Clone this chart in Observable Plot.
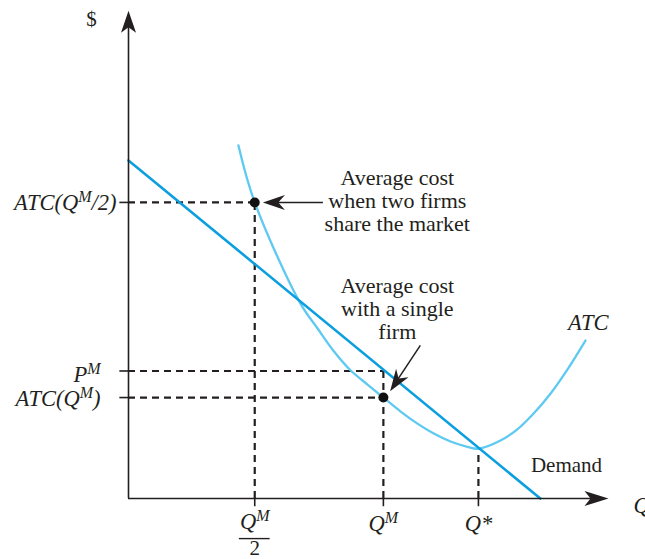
<!DOCTYPE html>
<html><head><meta charset="utf-8">
<script src="https://cdn.jsdelivr.net/npm/d3@7"></script>
<script src="https://cdn.jsdelivr.net/npm/@observablehq/plot@0.6"></script>
<style>body{margin:0;background:#fff} svg{display:block}</style>
</head><body><div id="chart"></div>
<script>
// ---- data (units: quantity Q on x, $ on y) ----
const demandQ = [0, 8.58];
const demandP = [7.0, 0];
const atcQ = [2.29, 2.63, 3.58, 3.94, 4.27, 4.63, 4.98, 5.31, 5.67, 6.02, 6.35, 6.71, 7.06, 7.29, 7.75, 8.10, 8.44, 8.79, 9.15, 9.52];
const atcP = [7.31, 6.13, 4.04, 3.52, 3.06, 2.65, 2.36, 2.09, 1.80, 1.55, 1.35, 1.18, 1.07, 1.03, 1.20, 1.43, 1.76, 2.17, 2.68, 3.27];
const QM2 = 2.63, QM = 5.31, QSTAR = 7.29;
const ATC_QM2 = 6.13, PM = 2.64, ATC_QM = 2.09, ATC_MIN = 1.03;

const yTickValues = [ATC_QM2, PM, ATC_QM];
const yTickLabels = ["ATC(Q^{M}/2)", "P^{M}", "ATC(Q^{M})"];
const xTickValues = [QM, QSTAR];
const xTickLabels = ["Q^{M}", "Q*"];
const note1 = "Average cost\nwhen two firms\nshare the market";
const note2 = "Average cost\nwith a single\nfirm";

const demand = demandQ.map((q, i) => ({q, p: demandP[i]}));
const atc = atcQ.map((q, i) => ({q, p: atcP[i]}));
const hDash = [{x: QM2, y: ATC_QM2}, {x: QM, y: PM}, {x: QM, y: ATC_QM}];
const vDash = [{x: QM2, y: ATC_QM2}, {x: QM, y: PM}, {x: QSTAR, y: ATC_MIN}];
const xLab = xTickValues.map((x, i) => ({x, t: xTickLabels[i]}));
const points = [{x: QM2, y: ATC_QM2}, {x: QM, y: ATC_QM}];

// arrow-head symbol (tip at the anchor)
function dart(angleDeg, L, W, notch) {
  return {draw(ctx) {
    const a = angleDeg * Math.PI / 180, c = Math.cos(a), s = Math.sin(a);
    const pts = [[0, 0], [-L, W / 2], [-L * notch, 0], [-L, -W / 2]].map(([x, y]) => [x * c - y * s, x * s + y * c]);
    ctx.moveTo(...pts[0]); for (let i = 1; i < pts.length; i++) ctx.lineTo(...pts[i]); ctx.closePath();
  }};
}

const INK = "#231f20";
const serif = "'Liberation Serif', 'Times New Roman', serif";
const dash = {stroke: INK, strokeWidth: 2.2, strokeDasharray: "7,5"};
const FS = 21, FL = 22.5;

const plot = Plot.plot({
  width: 645, height: 559,
  marginTop: 0, marginRight: 0, marginBottom: 0, marginLeft: 0,
  x: {domain: [0, 10], range: [128, 608], axis: null},
  y: {domain: [0, 10], range: [498, 15], axis: null},
  style: {fontFamily: serif, fontSize: FS + "px", background: "#fff", color: INK},
  marks: [
    // dashed guides
    Plot.ruleY(hDash, {y: "y", x1: 0, x2: "x", ...dash}),
    Plot.ruleX(vDash, {x: "x", y1: 0, y2: "y", ...dash}),
    // curves
    Plot.line(atc, {x: "q", y: "p", curve: "catmull-rom", stroke: "#5ec9f1", strokeWidth: 2.3}),
    Plot.line(demand, {x: "q", y: "p", stroke: "#0b9fdf", strokeWidth: 2.6}),
    // axes
    Plot.ruleY([0], {x1: 0, x2: 9.7, stroke: INK, strokeWidth: 1.6}),
    Plot.ruleX([0], {y1: 0, y2: 9.8, stroke: INK, strokeWidth: 1.6}),
    Plot.dot([{x: 10, y: 0}], {x: "x", y: "y", symbol: dart(0, 24, 15, 0.75), fill: INK, stroke: "none"}),
    Plot.dot([{x: 0, y: 10.1}], {x: "x", y: "y", symbol: dart(-90, 22, 15, 0.75), fill: INK, stroke: "none"}),
    // ticks
    Plot.ruleY(yTickValues, {x1: -0.18, x2: 0, stroke: INK, strokeWidth: 1.6}),
    Plot.ruleX([QM2, QM, QSTAR], {y1: 0, y2: -0.17, stroke: INK, strokeWidth: 1.6}),
    // points
    Plot.dot(points, {x: "x", y: "y", r: 5, fill: "#111", stroke: "none"}),
    // annotation arrows
    Plot.link([{x1: 4.05, y1: ATC_QM2, x2: 2.95, y2: ATC_QM2}], {x1: "x1", y1: "y1", x2: "x2", y2: "y2", stroke: INK, strokeWidth: 1.5}),
    Plot.dot([{x: 2.80, y: ATC_QM2}], {x: "x", y: "y", symbol: dart(180, 22, 15, 0.7), fill: INK, stroke: "none"}),
    Plot.link([{x1: 6.08, y1: 3.17, x2: 5.6, y2: 2.45}], {x1: "x1", y1: "y1", x2: "x2", y2: "y2", stroke: INK, strokeWidth: 1.5}),
    Plot.dot([{x: 5.45, y: 2.22}], {x: "x", y: "y", symbol: dart(123.7, 22, 15, 0.7), fill: INK, stroke: "none"}),
    // y labels
    Plot.text([0], {x: 0, y: () => yTickValues[0], text: () => yTickLabels[0], dx: -12, textAnchor: "end", fontStyle: "italic", fontSize: FL, fill: INK}),
    Plot.text([1], {x: 0, y: () => yTickValues[1], text: () => yTickLabels[1], dx: -28, dy: 4, textAnchor: "end", fontStyle: "italic", fontSize: FL, fill: INK}),
    Plot.text([2], {x: 0, y: () => yTickValues[2], text: () => yTickLabels[2], dx: -28, dy: 1, textAnchor: "end", fontStyle: "italic", fontSize: FL, fill: INK}),
    // x labels
    Plot.text(xLab, {x: "x", y: -0.52, text: "t", fontStyle: "italic", fontSize: FL, fill: INK}),
    Plot.text([QM2], {x: d => d, y: -0.48, text: () => "Q^{M}", fontStyle: "italic", fontSize: FL, fill: INK}),
    Plot.ruleY([-0.83], {x1: QM2 - 0.32, x2: QM2 + 0.32, stroke: INK, strokeWidth: 1.4}),
    Plot.text([QM2], {x: d => d, y: -1.03, text: () => "2", fontSize: FS, fill: INK}),
    // axis titles & curve labels
    Plot.text(["$"], {x: -0.77, y: 9.92, text: d => d, fontSize: FS, fill: INK}),
    Plot.text(["Q"], {x: 10.52, y: -0.15, text: d => d, textAnchor: "start", fontStyle: "italic", fontSize: FL, fill: INK}),
    Plot.text(["ATC"], {x: 9.58, y: 3.64, text: d => d, fontStyle: "italic", fontSize: FL, fill: INK}),
    Plot.text(["Demand"], {x: 9.125, y: 0.68, text: d => d, fontSize: FS, fill: INK}),
    // notes
    Plot.text([note1], {x: 5.6, y: 6.17, text: d => d, lineHeight: 1.06, fontSize: 22, fill: INK}),
    Plot.text([note2], {x: 5.6, y: 3.93, text: d => d, lineHeight: 1.06, fontSize: 22, fill: INK})
  ]
});

// superscripts written as ^{...}
plot.querySelectorAll("text").forEach(el => {
  if (el.querySelector("tspan")) return;
  const s = el.textContent;
  if (!s.includes("^{")) return;
  const parts = s.split(/\^\{([^}]*)\}/);
  el.textContent = "";
  const NS = "http://www.w3.org/2000/svg";
  let raised = false;
  parts.forEach((p, i) => {
    if (p === "") return;
    const t = document.createElementNS(NS, "tspan");
    t.textContent = p;
    if (i % 2 === 1) { t.setAttribute("font-size", "16"); t.setAttribute("dy", "-8"); raised = true; }
    else if (raised) { t.setAttribute("dy", "8"); raised = false; }
    el.appendChild(t);
  });
});
document.getElementById("chart").appendChild(plot);
</script>
</body></html>
